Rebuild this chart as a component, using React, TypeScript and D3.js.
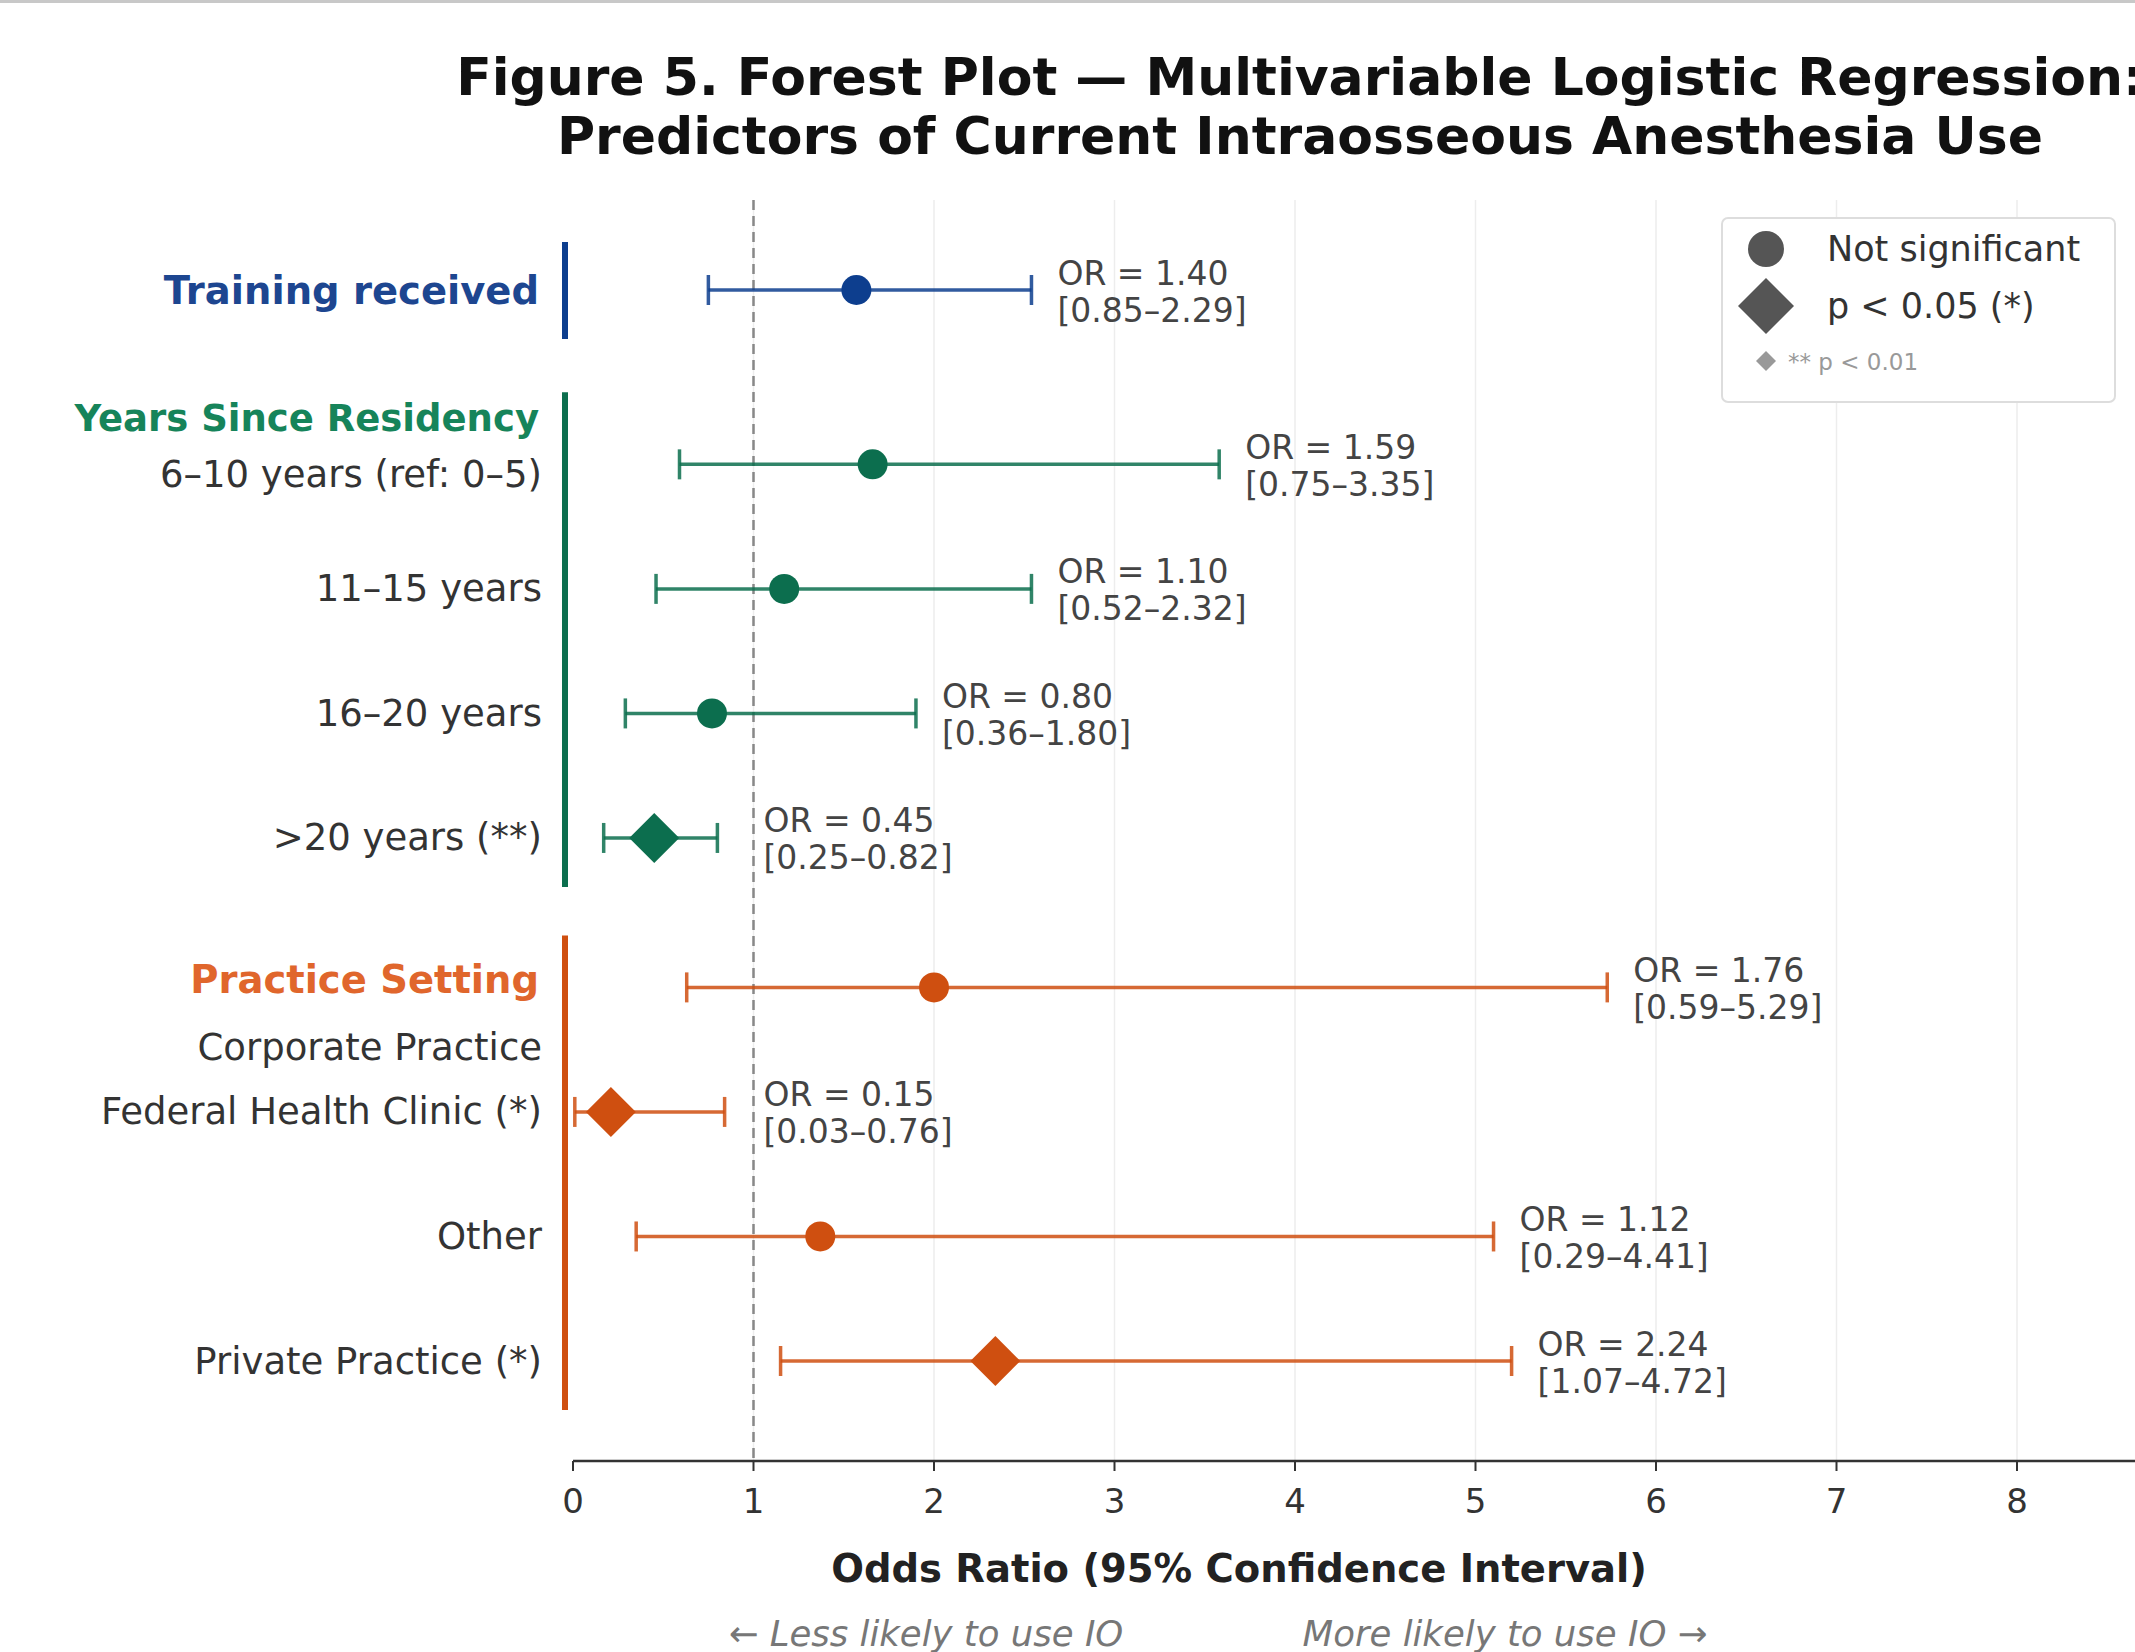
import React from 'react';
import * as d3 from 'd3';

// Chart data
const groupNames = ['Training received', 'Years Since Residency', 'Practice Setting'];
const groupColors = ['#0d3e8e', '#0c6e4e', '#cf4f10'];
const headerColors = ['#1d4690', '#16845a', '#e0662c'];

const rowLabels = [
  '',
  '6–10 years (ref: 0–5)',
  '11–15 years',
  '16–20 years',
  '>20 years (**)',
  'Corporate Practice',
  'Federal Health Clinic (*)',
  'Other',
  'Private Practice (*)',
];
const rowGroup = [0, 1, 1, 1, 1, 2, 2, 2, 2];
const pointEst = [1.57, 1.66, 1.17, 0.77, 0.45, 2.0, 0.21, 1.37, 2.34];
const ciLow = [0.75, 0.59, 0.46, 0.29, 0.17, 0.63, 0.01, 0.35, 1.15];
const ciHigh = [2.54, 3.58, 2.54, 1.9, 0.8, 5.73, 0.84, 5.1, 5.2];
const significant = [false, false, false, false, true, false, true, false, true];
const orText = ['1.40', '1.59', '1.10', '0.80', '0.45', '1.76', '0.15', '1.12', '2.24'];
const ciText = [
  '0.85–2.29', '0.75–3.35', '0.52–2.32', '0.36–1.80', '0.25–0.82',
  '0.59–5.29', '0.03–0.76', '0.29–4.41', '1.07–4.72',
];
const xTicks = [0, 1, 2, 3, 4, 5, 6, 7, 8];

// extra space (in rows) before each group
const groupGap = [0, 0.4, 0.2];
// header / first-label offsets in px relative to the group's first row
const headerShift = [0, -46, -8];
const subShift = [0, 10, 60];

const W = 2135;
const H = 1652;
const FONT = 'DejaVu Sans, sans-serif';

const App = () => {
  // row positions in row units, with gaps between groups
  const rowPos: number[] = [];
  let p = 0;
  rowGroup.forEach((g, i) => {
    if (i > 0) p += 1 + (g !== rowGroup[i - 1] ? groupGap[g] : 0);
    rowPos.push(p);
  });

  const x = d3.scaleLinear().domain([0, 8.65]).range([573, 573 + 8.65 * 180.5]);
  const y = d3.scaleLinear().domain([0, d3.max(rowPos) as number]).range([290, 1361]);

  const plotTop = 200;
  const axisY = 1461;
  const labelRight = 542;
  const barX = 565;

  const diamond = (cx: number, cy: number, r: number) =>
    `M${cx},${cy - r}L${cx + r},${cy}L${cx},${cy + r}L${cx - r},${cy}Z`;

  return (
    <svg
      width={W}
      height={H}
      style={{ position: 'absolute', left: 0, top: 0, background: '#fff' }}
      fontFamily={FONT}
    >
      <rect x={0} y={0} width={W} height={H} fill="#fff" />
      <line x1={0} x2={W} y1={1.5} y2={1.5} stroke="#c8c8c8" strokeWidth={3} />

      {/* title */}
      <text x={1300} y={95} textAnchor="middle" fontSize={52} fontWeight="bold" fill="#111">
        Figure 5. Forest Plot — Multivariable Logistic Regression:
      </text>
      <text x={1300} y={154} textAnchor="middle" fontSize={52} fontWeight="bold" fill="#111">
        Predictors of Current Intraosseous Anesthesia Use
      </text>

      {/* grid */}
      {xTicks.slice(1).map((t) => (
        <line key={'g' + t} x1={x(t)} x2={x(t)} y1={plotTop} y2={axisY} stroke="#ededed" strokeWidth={1.5} />
      ))}
      <line x1={x(1)} x2={x(1)} y1={plotTop} y2={axisY} stroke="#888" strokeWidth={2.5} strokeDasharray="10,6" />

      {/* group bars and headers */}
      {groupNames.map((name, g) => {
        const idx = rowGroup.map((rg, i) => (rg === g ? i : -1)).filter((i) => i >= 0);
        const first = y(rowPos[idx[0]]);
        const last = y(rowPos[idx[idx.length - 1]]);
        const top = first - (g === 0 ? 48 : g === 1 ? 72 : 52);
        return (
          <g key={name}>
            <line x1={barX} x2={barX} y1={top} y2={last + 49} stroke={groupColors[g]} strokeWidth={6} />
            <text
              x={labelRight - 3}
              y={first + headerShift[g]}
              textAnchor="end"
              dominantBaseline="central"
              fontSize={g === 1 ? 37 : 38.5}
              fontWeight="bold"
              fill={headerColors[g]}
            >
              {name}
            </text>
          </g>
        );
      })}

      {/* row labels */}
      {rowLabels.map((lab, i) => {
        if (!lab) return null;
        const g = rowGroup[i];
        const firstInGroup = rowGroup.indexOf(g) === i;
        return (
          <text
            key={'l' + i}
            x={labelRight}
            y={y(rowPos[i]) + (firstInGroup ? subShift[g] : 0)}
            textAnchor="end"
            dominantBaseline="central"
            fontSize={37}
            fill="#333"
          >
            {lab}
          </text>
        );
      })}

      {/* error bars, markers, annotations */}
      {pointEst.map((est, i) => {
        const cy = y(rowPos[i]);
        const col = groupColors[rowGroup[i]];
        const lx = Math.max(x(ciHigh[i]) + 26, x(1) + 10);
        return (
          <g key={'r' + i}>
            <line x1={x(ciLow[i])} x2={x(ciHigh[i])} y1={cy} y2={cy} stroke={col} strokeOpacity={0.85} strokeWidth={3.5} />
            <line x1={x(ciLow[i])} x2={x(ciLow[i])} y1={cy - 15} y2={cy + 15} stroke={col} strokeOpacity={0.85} strokeWidth={3.5} />
            <line x1={x(ciHigh[i])} x2={x(ciHigh[i])} y1={cy - 15} y2={cy + 15} stroke={col} strokeOpacity={0.85} strokeWidth={3.5} />
            {significant[i] ? (
              <path d={diamond(x(est), cy, 25)} fill={col} />
            ) : (
              <circle cx={x(est)} cy={cy} r={15} fill={col} />
            )}
            <text x={lx} y={cy - 17} dominantBaseline="central" fontSize={33} fill="#444">
              {`OR = ${orText[i]}`}
            </text>
            <text x={lx} y={cy + 20} dominantBaseline="central" fontSize={33} fill="#444">
              {`[${ciText[i]}]`}
            </text>
          </g>
        );
      })}

      {/* x axis */}
      <line x1={x(0)} x2={W} y1={axisY} y2={axisY} stroke="#333" strokeWidth={2.5} />
      {xTicks.map((t) => (
        <g key={'t' + t}>
          <line x1={x(t)} x2={x(t)} y1={axisY} y2={axisY + 10} stroke="#333" strokeWidth={2} />
          <text x={x(t)} y={axisY + 40} textAnchor="middle" dominantBaseline="central" fontSize={34} fill="#333">
            {t}
          </text>
        </g>
      ))}
      <text x={1239} y={1568} textAnchor="middle" dominantBaseline="central" fontSize={38.5} fontWeight="bold" fill="#222">
        Odds Ratio (95% Confidence Interval)
      </text>
      <text x={926} y={1646} textAnchor="middle" fontSize={35.5} fontStyle="italic" fill="#777">
        ← Less likely to use IO
      </text>
      <text x={1505} y={1646} textAnchor="middle" fontSize={35.5} fontStyle="italic" fill="#777">
        More likely to use IO →
      </text>

      {/* legend */}
      <g>
        <rect x={1722} y={218} width={393} height={184} rx={6} fill="#fff" stroke="#ddd" strokeWidth={2} />
        <circle cx={1766} cy={249} r={18} fill="#555" />
        <text x={1827} y={249} dominantBaseline="central" fontSize={35} fill="#333">Not significant</text>
        <path d={diamond(1766, 306, 28)} fill="#555" />
        <text x={1827} y={306} dominantBaseline="central" fontSize={35} fill="#333">p &lt; 0.05 (*)</text>
        <path d={diamond(1766, 361, 10)} fill="#999" />
        <text x={1788} y={362} dominantBaseline="central" fontSize={23} fill="#999">** p &lt; 0.01</text>
      </g>
    </svg>
  );
};

export default App;
